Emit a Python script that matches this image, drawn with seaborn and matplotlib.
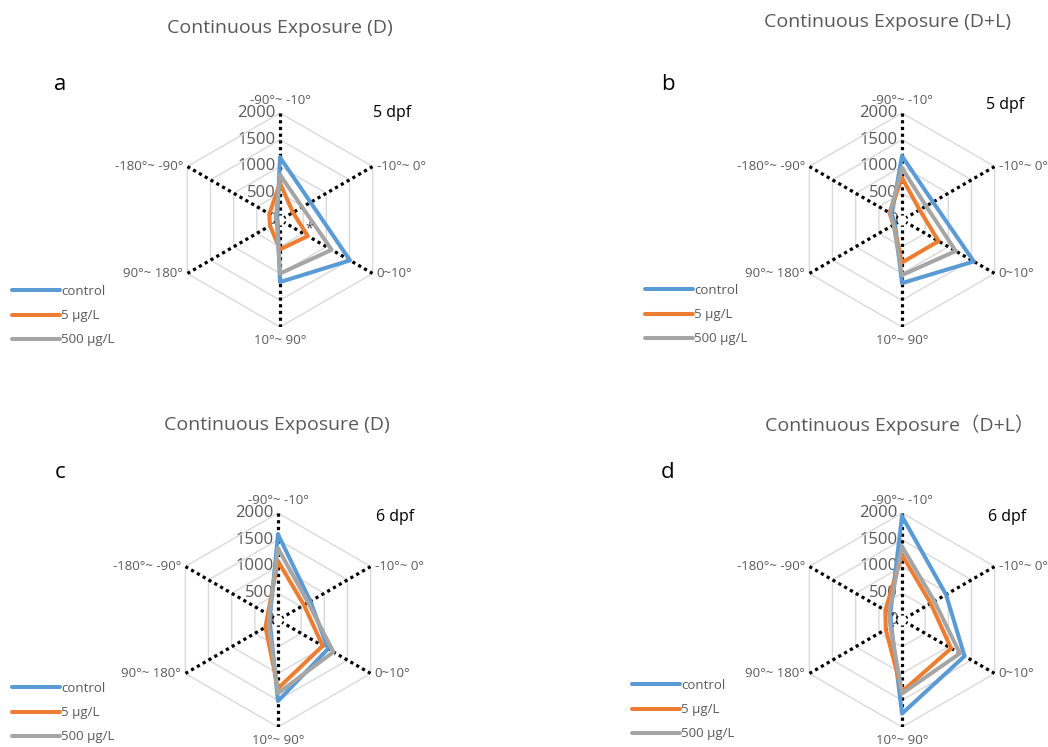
import numpy as np
import pandas as pd
import matplotlib
matplotlib.use('Agg')
import matplotlib.pyplot as plt
import matplotlib.transforms as mtransforms
from matplotlib.lines import Line2D
import seaborn as sns

# ---------------- data ----------------
categories = ['-90°~ -10°', '-10°~ 0°', '0~10°', '10°~ 90°', '90°~ 180°', '-180°~ -90°']
series_names = ['control', '5 μg/L', '500 μg/L']
radial_ticks = [0, 500, 1000, 1500, 2000]

a_control = [1170, 660, 1510, 1160, 50, 60]
a_5 = [690, 280, 600, 550, 215, 230]
a_500 = [845, 480, 1115, 1000, 70, 90]

b_control = [1195, 670, 1550, 1180, 150, 220]
b_5 = [790, 380, 790, 795, 180, 270]
b_500 = [970, 520, 1160, 1030, 180, 260]

c_control = [1600, 700, 1080, 1515, 170, 170]
c_5 = [1100, 560, 965, 1280, 270, 220]
c_500 = [1340, 650, 1195, 1370, 200, 190]

d_control = [1940, 950, 1350, 1750, 230, 250]
d_5 = [1220, 620, 1060, 1340, 350, 360]
d_500 = [1375, 700, 1250, 1375, 250, 280]

panel_letters = ['a', 'b', 'c', 'd']
titles = ['Continuous Exposure (D)', 'Continuous Exposure (D+L)',
          'Continuous Exposure (D)', 'Continuous Exposure（D+L）']
stages = ['5 dpf', '5 dpf', '6 dpf', '6 dpf']
panel_data = [[a_control, a_5, a_500], [b_control, b_5, b_500],
              [c_control, c_5, c_500], [d_control, d_5, d_500]]

colors = ['#5B9BD5', '#ED7D31', '#A5A5A5']
text_gray = '#595959'

# ---------------- layout (pixels) ----------------
W, H = 1048, 747
R = 107
centers = [(280, 220), (902, 220), (278, 620), (902, 620)]
title_pos = [(280, 28), (887, 22), (277, 425), (900, 425)]
letter_pos = [(60, 85), (668, 85), (60, 472), (668, 472)]
stage_pos = [(392, 113), (1005, 105), (395, 517), (1007, 517)]
legend_pos = [(12, 285), (645, 284), (12, 682), (632, 679)]

sns.set_theme(style='white')
plt.rcParams['font.family'] = ['Open Sans', 'Noto Sans CJK SC', 'DejaVu Sans']

fig = plt.figure(figsize=(W / 100, H / 100), dpi=100)
fig.patch.set_facecolor('white')

theta = np.deg2rad(np.arange(len(categories)) * 60.0)
theta_closed = np.append(theta, 2 * np.pi)

# label placement per category: (dx, dy, ha, va)
label_place = [(0, 6, 'center', 'bottom'), (4, 0, 'left', 'center'),
               (4, 0, 'left', 'center'), (0, -7, 'center', 'top'),
               (-4, 0, 'right', 'center'), (-4, 0, 'right', 'center')]


def fx(x):
    return x / W


def fy(y):
    return 1 - y / H


for p in range(4):
    cx, cy = centers[p]
    ax = fig.add_axes([fx(cx - R), fy(cy + R), 2 * R / W, 2 * R / H], projection='polar')
    ax.set_theta_offset(np.pi / 2)
    ax.set_theta_direction(-1)
    ax.patch.set_alpha(0)

    # hexagonal gridlines
    for r in radial_ticks[1:]:
        ax.plot(theta_closed, [r] * len(theta_closed), color='#D9D9D9', lw=1.0, zorder=1)
    # dotted spokes (drawn from outer edge inward so the dots don't pile up at the centre)
    for t in theta:
        ax.plot([t, t], [2000, 90], color='black', lw=2.3, ls=(0, (1, 1.1)), zorder=1.5)

    rows = []
    for name, vals in zip(series_names, panel_data[p]):
        for k in range(len(theta_closed)):
            rows.append({'theta': theta_closed[k], 'value': vals[k % len(vals)], 'series': name})
    df = pd.DataFrame(rows)
    sns.lineplot(data=df, x='theta', y='value', hue='series', hue_order=series_names,
                 palette=colors, sort=False, estimator=None, linewidth=2.9,
                 legend=False, ax=ax, zorder=3)

    ax.set_ylim(0, 2000)
    ax.set_xticks([])
    ax.set_yticks([])
    ax.grid(False)
    ax.spines['polar'].set_visible(False)
    ax.set_xlabel('')
    ax.set_ylabel('')

    # category labels
    for t, lab, (dx, dy, ha, va) in zip(theta, categories, label_place):
        tr = mtransforms.offset_copy(ax.transData, fig=fig, x=dx, y=dy, units='dots')
        ax.text(t, 2000, lab, transform=tr, ha=ha, va=va, fontsize=9.5, color=text_gray, clip_on=False)
    # radial tick labels
    tr = mtransforms.offset_copy(ax.transData, fig=fig, x=-4, y=0, units='dots')
    for r in radial_ticks:
        ax.text(0, r, str(r), transform=tr, ha='right', va='center', fontsize=12,
                color=text_gray, clip_on=False, zorder=0.5)

    if p == 0:
        ax.text(np.deg2rad(107), 570, '*', ha='center', va='center', fontsize=10, color='#404040')

    fig.text(fx(title_pos[p][0]), fy(title_pos[p][1]), titles[p], ha='center', va='center',
             fontsize=14, color=text_gray)
    fig.text(fx(letter_pos[p][0]), fy(letter_pos[p][1]), panel_letters[p], ha='center', va='center',
             fontsize=16, color='black')
    fig.text(fx(stage_pos[p][0]), fy(stage_pos[p][1]), stages[p], ha='center', va='center',
             fontsize=11.5, color='black')

    handles = [Line2D([0], [0], color=c, lw=2.9) for c in colors]
    fig.legend(handles, series_names, loc='upper left',
               bbox_to_anchor=(fx(legend_pos[p][0]), fy(legend_pos[p][1])),
               bbox_transform=fig.transFigure, frameon=False, fontsize=9.5,
               handlelength=3.6, handletextpad=0.15, labelspacing=0.85,
               borderpad=0, borderaxespad=0, labelcolor=text_gray)

fig.savefig('out.png', dpi=100, facecolor='white')
